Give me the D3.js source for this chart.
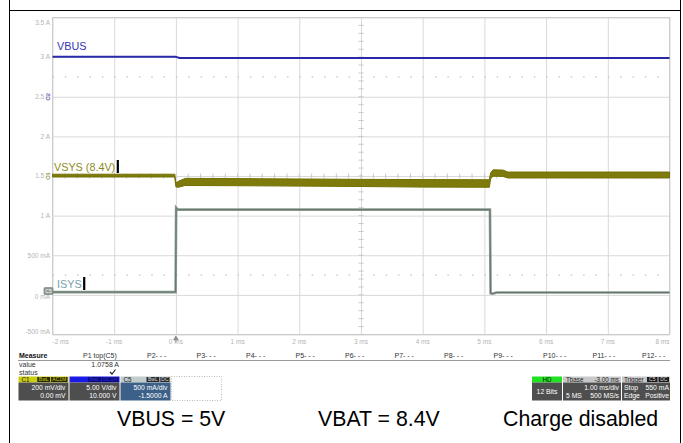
<!DOCTYPE html>
<html><head><meta charset="utf-8">
<script src="https://cdn.jsdelivr.net/npm/d3@7"></script>
<style>
html,body{margin:0;padding:0;background:#fff;}
svg{display:block;font-family:"Liberation Sans",Arial,sans-serif;}
</style></head><body>
<svg id="scope" width="683" height="443"></svg>
<script>
// ---- horizontal axis (ms) and the C5 current axis ----
const timeTicks = [-2, -1, 0, 1, 2, 3, 4, 5, 6, 7, 8];
const timeTickLabels = ["-2 ms", "-1 ms", "0 ms", "1 ms", "2 ms", "3 ms", "4 ms", "5 ms", "6 ms", "7 ms", "8 ms"];
const ampTicks = [3.5, 3, 2.5, 2, 1.5, 1, 0.5, 0, -0.5];
const ampTickLabels = ["3.5 A", "3 A", "2.5 A", "2 A", "1.5 A", "1 A", "500 mA", "0 mA", "-500 mA"];
const dottedLevels = [2.75, 0.25];

// ---- channel settings ----
const chanNames = ["C1", "C2", "C5"];
const chanPerDiv = [0.2, 5, 0.5];
const chanOffset = [0, 10, -1.5];
const chanScaleText = ["200 mV/div", "5.00 V/div", "500 mA/div"];
const chanOffsetText = ["0.00 mV", "10.000 V", "-1.5000 A"];
const chanBadges = [["BwL", "AC1M"], ["BwL", "DC1M"], ["BwL", "DC"]];

// ---- VBUS on C2 (V) ----
const vbusTime = [-2, -0.01, 0.06, 8];
const vbusVolts = [5.06, 5.06, 4.9, 4.9];

// ---- VSYS on C1, AC coupled (V): band centre and peak-to-peak ripple ----
const vsysTime   = [-2, -0.02, 0, 0.04, 0.15, 1, 2, 3, 4, 5.08, 5.1, 5.14, 5.3, 5.38, 6, 7, 8];
const vsysMid    = [0.002, 0.002, -0.045, -0.042, -0.03, -0.031, -0.033, -0.035, -0.037, -0.038, 0.0, 0.015, 0.014, 0.005, 0.005, 0.005, 0.005];
const vsysRipple = [0.014, 0.014, 0.02, 0.03, 0.036, 0.036, 0.036, 0.036, 0.038, 0.038, 0.03, 0.032, 0.032, 0.03, 0.03, 0.03, 0.03];

// ---- ISYS on C5 (A) ----
const isysTop = 1.0758;
const isysTime = [-2, -0.005, 0.004, 0.03, 5.09, 5.1, 5.13, 5.2, 8];
const isysAmps = [0.035, 0.035, 1.1, isysTop, isysTop, 0.02, 0.015, 0.03, 0.03];

// ---- measurement row ----
const measureHeads = ["P1 top(C5)", "P2- - -", "P3- - -", "P4- - -", "P5- - -", "P6- - -", "P7- - -", "P8- - -", "P9- - -", "P10- - -", "P11- - -", "P12- - -"];

// ---- footer notes ----
const footNotes = ["VBUS = 5V", "VBAT = 8.4V", "Charge disabled"];

const svg = d3.select("#scope");
const L = 52.5, R = 669.5, T = 17.5, B = 334.5;
const divs = 4;

const x = d3.scaleLinear().domain([-2, 8]).range([L, R]);
const yDiv = d3.scaleLinear().domain([-divs, divs]).range([B, T]);
// one vertical scale per channel, from volts/div and offset
const chanY = chanNames.map((c, i) => d3.scaleLinear()
  .domain([-chanOffset[i] - divs * chanPerDiv[i], -chanOffset[i] + divs * chanPerDiv[i]])
  .range([B, T]));
const yC1 = chanY[0], yC2 = chanY[1], yC5 = chanY[2];

// outer table-cell frame
svg.append("line").attr("x1", 9.5).attr("x2", 9.5).attr("y1", 0).attr("y2", 443).attr("stroke", "#000");
svg.append("line").attr("x1", 680.5).attr("x2", 680.5).attr("y1", 0).attr("y2", 443).attr("stroke", "#000");
svg.append("line").attr("x1", 9).attr("x2", 681).attr("y1", 10.5).attr("y2", 10.5).attr("stroke", "#000");

// graticule
const grid = svg.append("g");
grid.append("g").attr("transform", `translate(0,${B})`)
  .call(d3.axisBottom(x).tickValues(timeTicks).tickSize(-(B - T)).tickFormat(""))
  .call(g => g.select(".domain").remove())
  .call(g => g.selectAll("line").attr("stroke", "#d9d9d9"));
grid.append("g").attr("transform", `translate(${L},0)`)
  .call(d3.axisLeft(yC5).tickValues(ampTicks).tickSize(-(R - L)).tickFormat(""))
  .call(g => g.select(".domain").remove())
  .call(g => g.selectAll("line").attr("stroke", "#d9d9d9"));
grid.append("rect").attr("x", L).attr("y", T).attr("width", R - L).attr("height", B - T)
  .attr("fill", "none").attr("stroke", "#cccccc");

// dotted reference levels
grid.selectAll(".dot").data(dottedLevels).join("line")
  .attr("x1", L).attr("x2", R).attr("y1", d => yC5(d)).attr("y2", d => yC5(d))
  .attr("stroke", "#c4c4c4").attr("stroke-width", 1.2)
  .attr("stroke-dasharray", `1.5,${(x(1) - x(0)) / 5 - 1.5}`);

// minor ticks on the centre cross
const minorT = d3.range(-2, 8.001, 0.2);
grid.selectAll(".mt").data(minorT).join("line")
  .attr("x1", d => x(d)).attr("x2", d => x(d)).attr("y1", yDiv(0) - 2.5).attr("y2", yDiv(0) + 2.5)
  .attr("stroke", "#c8c8c8");
const minorD = d3.range(-4, 4.001, 0.2);
grid.selectAll(".md").data(minorD).join("line")
  .attr("x1", x(3) - 2.5).attr("x2", x(3) + 2.5).attr("y1", d => yDiv(d)).attr("y2", d => yDiv(d))
  .attr("stroke", "#c8c8c8");

// axis labels (end labels kept inside the graticule span)
const tickFont = 6.5, tickCol = "#b4b4b4";
svg.append("g").selectAll("text").data(timeTicks).join("text")
  .attr("x", d => x(d)).attr("y", 344)
  .attr("text-anchor", (d, i) => i === 0 ? "start" : i === timeTicks.length - 1 ? "end" : "middle")
  .attr("font-size", tickFont).attr("fill", tickCol)
  .text((d, i) => timeTickLabels[i]);
const ampNudge = (d, i) => i === 0 ? 5 : i === ampTicks.length - 1 ? -2.5 : d === 0 ? 1.5 : 0;
svg.append("g").selectAll("text").data(ampTicks).join("text")
  .attr("x", 50).attr("y", (d, i) => yC5(d) + 2.3 + ampNudge(d, i))
  .attr("text-anchor", "end").attr("font-size", tickFont).attr("fill", tickCol)
  .text((d, i) => ampTickLabels[i]);

// trigger position arrow at t = 0
svg.append("path")
  .attr("d", `M${x(0)},${B + 1.5} l-2.3,3.8 h4.6 z M${x(0)},${B + 5} v3.5`)
  .attr("fill", "#8a8a8a").attr("stroke", "#8a8a8a").attr("stroke-width", 0.8);

// ---- traces ----
const pts = (t, v) => t.map((d, i) => [d, v[i]]);

// VSYS ripple band
const vsysData = vsysTime.map((t, i) => ({ t, lo: vsysMid[i] - vsysRipple[i] / 2, hi: vsysMid[i] + vsysRipple[i] / 2 }));
svg.append("path").datum(vsysData)
  .attr("d", d3.area().x(d => x(d.t)).y0(d => yC1(d.lo)).y1(d => yC1(d.hi)))
  .attr("fill", "#7e7b0c").attr("stroke", "#737000").attr("stroke-width", 1);

// VBUS
svg.append("path").datum(pts(vbusTime, vbusVolts))
  .attr("d", d3.line().x(d => x(d[0])).y(d => yC2(d[1])))
  .attr("fill", "none").attr("stroke", "#2828aa").attr("stroke-width", 2);

// ISYS
const isysLine = d3.line().x(d => x(d[0])).y(d => yC5(d[1]));
svg.append("path").datum(pts(isysTime, isysAmps)).attr("d", isysLine)
  .attr("fill", "none").attr("stroke", "#8c9c92").attr("stroke-width", 2.6);
svg.append("path").datum(pts(isysTime, isysAmps)).attr("d", isysLine)
  .attr("fill", "none").attr("stroke", "#66766d").attr("stroke-width", 1);

// trace names with cursor bars
const tag = (txt, tx, ty, col, bar) => {
  const t = svg.append("text").attr("x", tx).attr("y", ty).attr("font-size", 10.8).attr("fill", col).text(txt);
  if (bar) {
    const w = t.node().getComputedTextLength();
    svg.append("rect").attr("x", tx + w + 1.5).attr("y", ty - 11).attr("width", 2.2).attr("height", 13).attr("fill", "#000");
  }
};
tag("VBUS", 57, 50, "#3434b4", false);
tag("VSYS (8.4V)", 54, 171, "#8e8a22", true);
tag("ISYS", 57, 288, "#76a0aa", true);

// channel ground markers at the left edge
svg.append("text").attr("transform", `translate(50,${yC2(0)}) rotate(-90)`)
  .attr("text-anchor", "middle").attr("font-size", 6).attr("fill", "#3a3ab0").text("C2");
svg.append("text").attr("transform", `translate(50,${yC1(0)}) rotate(-90)`)
  .attr("text-anchor", "middle").attr("font-size", 6).attr("fill", "#8e8a22").text("C1");
const c5y = yC5(0.035) - 1;
svg.append("rect").attr("x", 44).attr("y", c5y - 3.5).attr("width", 9).attr("height", 7)
  .attr("rx", 1).attr("fill", "#8c9890").attr("stroke", "#6c786f").attr("stroke-width", 0.6);
svg.append("text").attr("x", 48.5).attr("y", c5y + 1.8).attr("text-anchor", "middle")
  .attr("font-size", 5).attr("fill", "#fff").text("C5");

// ---- measurement table ----
const mt = svg.append("g").attr("font-size", 7).attr("fill", "#333");
mt.append("text").attr("x", 19).attr("y", 357.5).attr("font-weight", "bold").attr("fill", "#111").text("Measure");
const headX = measureHeads.map((d, i) => i === 0 ? 83 : 147 + (i - 1) * 49.5);
mt.selectAll(".mh").data(measureHeads).join("text")
  .attr("x", (d, i) => headX[i]).attr("y", 357.5).text(d => d);
svg.append("line").attr("x1", 18).attr("x2", 670).attr("y1", 360.5).attr("y2", 360.5).attr("stroke", "#9a9a9a");
mt.append("text").attr("x", 19).attr("y", 367).text("value");
mt.append("text").attr("x", 119).attr("y", 367).attr("text-anchor", "end").text(isysTop.toFixed(4) + " A");
mt.append("text").attr("x", 19).attr("y", 374.5).text("status");
mt.append("path").attr("d", "M110,372 l2,2 l3.5,-4.5").attr("fill", "none").attr("stroke", "#222").attr("stroke-width", 1.2);

// channel descriptor boxes
const headCol = ["#cccc10", "#1a1ae6", "#c2cccc"];
const headTxt = ["#222", "#1a1ae6", "#222"];
const badgeBg = ["#2a2a05", "#0a0a70", "#2a2a2a"];
const badgeTx = ["#cccc10", "#2a2ae0", "#ddd"];
const bodyCol = ["#4e4e4e", "#4e4e4e", "#3d6088"];
const boxW = 51, boxX0 = 18.5, hdrY = 376.5, hdrH = 6, bodyH = 18;
chanNames.forEach((c, i) => {
  const bx = boxX0 + i * boxW;
  const g = svg.append("g");
  g.append("rect").attr("x", bx).attr("y", hdrY).attr("width", boxW - 1).attr("height", hdrH).attr("fill", headCol[i]);
  g.append("text").attr("x", bx + 3).attr("y", hdrY + 5.3).attr("font-size", 6.3).attr("fill", headTxt[i]).text(c);
  let ex = bx + boxW - 2;
  chanBadges[i].slice().reverse().forEach(b => {
    const w = b.length * 3.6 + 2;
    ex -= w;
    g.append("rect").attr("x", ex).attr("y", hdrY + 0.5).attr("width", w).attr("height", hdrH - 1).attr("fill", badgeBg[i]);
    g.append("text").attr("x", ex + w / 2).attr("y", hdrY + 4.9).attr("text-anchor", "middle")
      .attr("font-size", 5).attr("fill", badgeTx[i]).text(b);
    ex -= 1;
  });
  g.append("rect").attr("x", bx).attr("y", hdrY + hdrH).attr("width", boxW - 1).attr("height", bodyH).attr("fill", bodyCol[i]);
  g.append("text").attr("x", bx + boxW - 4).attr("y", hdrY + hdrH + 7.5).attr("text-anchor", "end")
    .attr("font-size", 6.8).attr("fill", "#fff").text(chanScaleText[i]);
  g.append("text").attr("x", bx + boxW - 4).attr("y", hdrY + hdrH + 15.5).attr("text-anchor", "end")
    .attr("font-size", 6.8).attr("fill", "#fff").text(chanOffsetText[i]);
});
svg.append("rect").attr("x", boxX0 + 3 * boxW).attr("y", hdrY).attr("width", boxW - 1).attr("height", hdrH + bodyH)
  .attr("fill", "none").attr("stroke", "#aaa").attr("stroke-width", 0.8).attr("stroke-dasharray", "1,1.5");

// acquisition / timebase / trigger boxes
const rb = svg.append("g").attr("font-size", 6.8);
rb.append("rect").attr("x", 532).attr("y", hdrY).attr("width", 30).attr("height", hdrH).attr("fill", "#22e022");
rb.append("text").attr("x", 547).attr("y", hdrY + 5.3).attr("text-anchor", "middle").attr("font-size", 6.3).attr("fill", "#111").text("HD");
rb.append("rect").attr("x", 532).attr("y", hdrY + hdrH).attr("width", 30).attr("height", bodyH).attr("fill", "#4e4e4e");
rb.append("text").attr("x", 547).attr("y", hdrY + hdrH + 11.5).attr("text-anchor", "middle").attr("fill", "#fff").text("12 Bits");

rb.append("rect").attr("x", 563).attr("y", hdrY).attr("width", 58).attr("height", hdrH).attr("fill", "#c8c8c8");
rb.append("text").attr("x", 566).attr("y", hdrY + 5.3).attr("font-size", 6.3).attr("fill", "#222").text("Tbase");
rb.append("text").attr("x", 619).attr("y", hdrY + 5.3).attr("font-size", 6.3).attr("text-anchor", "end").attr("fill", "#222").text("-3.00 ms");
rb.append("rect").attr("x", 563).attr("y", hdrY + hdrH).attr("width", 58).attr("height", bodyH).attr("fill", "#4e4e4e");
rb.append("text").attr("x", 619).attr("y", hdrY + hdrH + 7.5).attr("text-anchor", "end").attr("fill", "#fff").text("1.00 ms/div");
rb.append("text").attr("x", 566).attr("y", hdrY + hdrH + 15.5).attr("fill", "#fff").text("5 MS");
rb.append("text").attr("x", 619).attr("y", hdrY + hdrH + 15.5).attr("text-anchor", "end").attr("fill", "#fff").text("500 MS/s");

rb.append("rect").attr("x", 622).attr("y", hdrY).attr("width", 48).attr("height", hdrH).attr("fill", "#c8c8c8");
rb.append("text").attr("x", 624).attr("y", hdrY + 5.3).attr("font-size", 6.3).attr("fill", "#222").text("Trigger");
[["C5", 647], ["DC", 658.5]].forEach(([b, bx]) => {
  rb.append("rect").attr("x", bx).attr("y", hdrY + 0.5).attr("width", 10.5).attr("height", hdrH - 1).attr("fill", "#1a1a1a");
  rb.append("text").attr("x", bx + 5.25).attr("y", hdrY + 4.9).attr("text-anchor", "middle").attr("font-size", 5).attr("fill", "#ddd").text(b);
});
rb.append("rect").attr("x", 622).attr("y", hdrY + hdrH).attr("width", 48).attr("height", bodyH).attr("fill", "#4e4e4e");
rb.append("text").attr("x", 624).attr("y", hdrY + hdrH + 7.5).attr("fill", "#fff").text("Stop");
rb.append("text").attr("x", 669).attr("y", hdrY + hdrH + 7.5).attr("text-anchor", "end").attr("fill", "#fff").text("550 mA");
rb.append("text").attr("x", 624).attr("y", hdrY + hdrH + 15.5).attr("fill", "#fff").text("Edge");
rb.append("text").attr("x", 669).attr("y", hdrY + hdrH + 15.5).attr("text-anchor", "end").attr("fill", "#fff").text("Positive");

// footer notes
const noteX = [117, 318, 503];
svg.append("g").selectAll("text").data(footNotes).join("text")
  .attr("x", (d, i) => noteX[i]).attr("y", 425.5).attr("font-size", 21.3).attr("fill", "#000")
  .text(d => d);
</script>
</body></html>
